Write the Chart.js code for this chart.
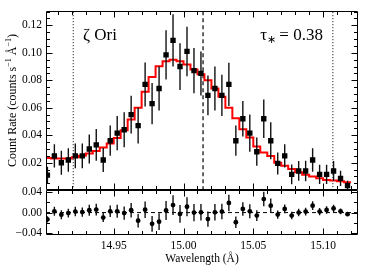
<!DOCTYPE html>
<html><head><meta charset="utf-8">
<script src="https://cdn.jsdelivr.net/npm/chart.js@4/dist/chart.umd.min.js"></script>
<style>html,body{margin:0;padding:0;background:#fff}</style>
</head><body>
<canvas id="c" width="375" height="270"></canvas>
<script>
// ---- data ----
const wavelengths = [14.9025,14.9075,14.9125,14.9175,14.9225,14.9275,14.9325,14.9375,14.9425,14.9475,
  14.9525,14.9575,14.9625,14.9675,14.9725,14.9775,14.9825,14.9875,14.9925,14.9975,
  15.0025,15.0075,15.0125,15.0175,15.0225,15.0275,15.0325,15.0375,15.0425,15.0475,
  15.0525,15.0575,15.0625,15.0675,15.0725,15.0775,15.0825,15.0875,15.0925,15.0975,
  15.1025,15.1075,15.1125,15.1175];
const counts = [0.011,0.025,0.020,0.022,0.025,0.025,0.030,0.033,0.022,0.036,
  0.0415,0.044,0.055,0.047,0.077,0.063,0.074,0.0985,0.109,0.090,
  0.101,0.087,0.085,0.069,0.074,0.069,0.077,0.036,0.052,0.0415,
  0.028,0.052,0.036,0.0195,0.025,0.0115,0.014,0.014,0.022,0.0115,
  0.0115,0.014,0.0086,0.0033];
const errors = [0.006,0.0085,0.0087,0.0085,0.009,0.009,0.0105,0.0115,0.0087,0.011,
  0.0125,0.0127,0.0138,0.013,0.016,0.015,0.016,0.018,0.019,0.017,
  0.018,0.0165,0.016,0.0145,0.016,0.015,0.0157,0.011,0.013,0.0135,
  0.0103,0.014,0.0135,0.008,0.0085,0.0072,0.0072,0.0075,0.0085,0.007,
  0.007,0.0072,0.0055,0.0035];
const model = [0.0235,0.023,0.023,0.023,0.024,0.025,0.0267,0.0285,0.031,0.034,
  0.038,0.0437,0.0515,0.060,0.0717,0.0823,0.0903,0.0939,0.0949,0.0939,
  0.0915,0.0879,0.0843,0.080,0.0741,0.068,0.060,0.0524,0.0444,0.0383,
  0.0318,0.0275,0.0249,0.020,0.0177,0.0154,0.013,0.0113,0.0099,0.0086,
  0.0075,0.007,0.0065,0.0057];
const residuals = [-0.013,0.0025,-0.004,-0.001,0.002,0.001,0.0045,0.0057,-0.0095,0.0025,
  0.0025,-0.001,0.0045,-0.0155,0.0055,-0.0216,-0.0175,0.004,0.0145,-0.0025,
  0.0112,0,0.0006,-0.0125,0.0006,0.002,0.0185,-0.0185,0.007,0.0025,
  -0.0057,0.026,0.0133,-0.0038,0.007,-0.0057,0,0.002,0.0133,0.002,
  0.005,0.008,0.0025,-0.003];
const binWidth = 0.005;
const windowLines = [14.921, 15.107];   // dotted
const lineCenter = [15.014];            // dashed
const xTicks = [14.95, 15.00, 15.05, 15.10];
const yTicks = [0.02, 0.04, 0.06, 0.08, 0.10, 0.12];
const rTicks = [-0.04, 0.00, 0.04];
const xRange = [14.9015, 15.125];
const yRange = [0, 0.1305];
const rRange = [-0.043, 0.043];
const starLabel = 'ζ Ori';
const tauLabel = ['τ', '∗', ' = 0.38'];

// ---- build datasets ----
const FONT = "'Liberation Serif','Times New Roman',Times,serif";
Chart.defaults.font.family = FONT;
Chart.defaults.color = '#000';

const pts = wavelengths.map((w,i)=>({x:w,y:counts[i]}));
const errPts = [];
wavelengths.forEach((w,i)=>{ errPts.push({x:w,y:counts[i]-errors[i]},{x:w,y:counts[i]+errors[i]},{x:w,y:null}); });
const stepPts = model.map((m,i)=>({x:wavelengths[i]-binWidth/2,y:m}));
stepPts.push({x:wavelengths[wavelengths.length-1]+binWidth/2,y:model[model.length-1]});
const resPts = wavelengths.map((w,i)=>({x:w,y:residuals[i]}));
const resErr = [];
wavelengths.forEach((w,i)=>{ resErr.push({x:w,y:residuals[i]-errors[i]},{x:w,y:residuals[i]+errors[i]},{x:w,y:null}); });
const vline = (v)=>[{x:v,y:yRange[0]},{x:v,y:yRange[1]}];

const base = {pointRadius:0, pointHoverRadius:0, fill:false, spanGaps:false, tension:0};
const datasets = [
  {...base, data:pts, yAxisID:'y', showLine:false, pointRadius:3.8, pointStyle:'rect', backgroundColor:'#000', borderColor:'#000', borderWidth:0, order:0},
  {...base, data:resPts, yAxisID:'yr', showLine:false, pointRadius:2.4, pointStyle:'circle', backgroundColor:'#000', borderColor:'#000', borderWidth:0, order:0},
  {...base, data:errPts, yAxisID:'y', borderColor:'#111', borderWidth:1.4, order:1},
  {...base, data:resErr, yAxisID:'yr', borderColor:'#111', borderWidth:1.4, order:1},
  {...base, data:stepPts, yAxisID:'y', borderColor:'#ff0000', borderWidth:2, stepped:true, order:2},
  ...windowLines.map(v=>({...base, data:vline(v), yAxisID:'y', borderColor:'#000', borderWidth:1, borderDash:[1,2], order:3})),
  ...lineCenter.map(v=>({...base, data:vline(v), yAxisID:'y', borderColor:'#000', borderWidth:1.2, borderDash:[4,3], order:3})),
  {...base, data:[{x:xRange[0],y:0},{x:xRange[1],y:0}], yAxisID:'yr', borderColor:'#000', borderWidth:1, borderDash:[4,3], order:3}
];

const setTicks = arr => s => { s.ticks = arr.map(v=>({value:v})); };
const fmt = v => (v<0?'−':'') + Math.abs(v).toFixed(2);

const frame = {
  id:'frame',
  afterDatasetsDraw(chart){
    const {ctx} = chart; const X = chart.scales.x, Y = chart.scales.y, R = chart.scales.yr;
    const L = Math.round(X.left)+0.5, Rt = Math.round(X.right)-0.5;
    ctx.save(); ctx.strokeStyle='#000'; ctx.lineWidth=1;
    const panels = [[Y, 0.02, 0.005],[R, 0.04, 0.02]];
    panels.forEach(([S, major, minor])=>{
      const T = Math.round(S.top)+0.5, B = Math.round(S.bottom)-0.5;
      ctx.beginPath(); ctx.rect(L, T, Rt-L, B-T); ctx.stroke();
      ctx.beginPath();
      for (let k = Math.ceil(X.min/0.01 - 1e-6); k*0.01 <= X.max+1e-9; k++) {
        const v = k*0.01; const isMaj = Math.abs(Math.round(v/0.05)*0.05 - v) < 1e-6;
        const len = isMaj ? 6 : 3.5; const px = Math.round(X.getPixelForValue(v))+0.5;
        ctx.moveTo(px, T); ctx.lineTo(px, T+len);
        ctx.moveTo(px, B); ctx.lineTo(px, B-len);
      }
      for (let k = Math.ceil(S.min/minor - 1e-6); k*minor <= S.max+1e-9; k++) {
        const v = k*minor; const isMaj = Math.abs(Math.round(v/major)*major - v) < 1e-6;
        const len = isMaj ? 6 : 3.5; const py = Math.round(S.getPixelForValue(v))+0.5;
        if (py < T+0.5 || py > B-0.5) continue;
        ctx.moveTo(L, py); ctx.lineTo(L+len, py);
        ctx.moveTo(Rt, py); ctx.lineTo(Rt-len, py);
      }
      ctx.stroke();
    });
    ctx.fillStyle='#000';
    ctx.translate(16, (Y.top+Y.bottom)/2); ctx.rotate(-Math.PI/2);
    const parts = [['Count Rate (counts s',12,0],['−1',8,-5],[' Å',12,0],['−1',8,-5],[')',12,0]];
    let tot = 0; parts.forEach(p=>{ ctx.font = p[1]+'px '+FONT; tot += ctx.measureText(p[0]).width; });
    let cx = -tot/2; ctx.textBaseline='alphabetic'; ctx.textAlign='left';
    parts.forEach(p=>{ ctx.font = p[1]+'px '+FONT; ctx.fillText(p[0], cx, p[2]); cx += ctx.measureText(p[0]).width; });
    ctx.restore();
    ctx.save(); ctx.fillStyle='#000'; ctx.textBaseline='alphabetic'; ctx.textAlign='left';
    ctx.font = '17px '+FONT;
    ctx.fillText(starLabel, X.getPixelForValue(14.928), Y.getPixelForValue(0.109));
    let tx = X.getPixelForValue(15.055), ty = Y.getPixelForValue(0.109);
    ctx.font = '17px '+FONT; ctx.fillText(tauLabel[0], tx, ty); tx += ctx.measureText(tauLabel[0]).width;
    ctx.font = '11px '+FONT; ctx.fillText(tauLabel[1], tx-0.5, ty+3); tx += ctx.measureText(tauLabel[1]).width-1;
    ctx.font = '17px '+FONT; ctx.fillText(tauLabel[2], tx, ty);
    ctx.restore();
  }
};

new Chart(document.getElementById('c'), {
  type:'line',
  data:{datasets},
  options:{
    responsive:false, animation:false, devicePixelRatio:1,
    layout:{padding:{top:9, right:17, left:0, bottom:0}},
    plugins:{legend:{display:false}, tooltip:{enabled:false}},
    scales:{
      x:{type:'linear', min:xRange[0], max:xRange[1], afterBuildTicks:setTicks(xTicks),
         ticks:{callback:v=>v.toFixed(2), font:{size:11.5}, padding:4, maxRotation:0, autoSkip:false},
         grid:{display:false, drawTicks:false}, border:{display:false},
         title:{display:true, text:'Wavelength (Å)', font:{size:11.5}, padding:{top:0,bottom:4}},
         afterFit:s=>{s.height=35;}},
      y:{type:'linear', position:'left', min:yRange[0], max:yRange[1], stack:'p', stackWeight:4, weight:2,
         afterBuildTicks:setTicks(yTicks), ticks:{callback:fmt, font:{size:11.5}, padding:4, autoSkip:false},
         grid:{display:false, drawTicks:false}, border:{display:false}, afterFit:s=>{s.width=46;}},
      yr:{type:'linear', position:'left', min:rRange[0], max:rRange[1], stack:'p', stackWeight:1, weight:1,
         afterBuildTicks:setTicks(rTicks), ticks:{callback:fmt, font:{size:11.5}, padding:4, autoSkip:false},
         grid:{display:false, drawTicks:false}, border:{display:false}, afterFit:s=>{s.width=46;}}
    }
  },
  plugins:[frame]
});
</script>
</body></html>
